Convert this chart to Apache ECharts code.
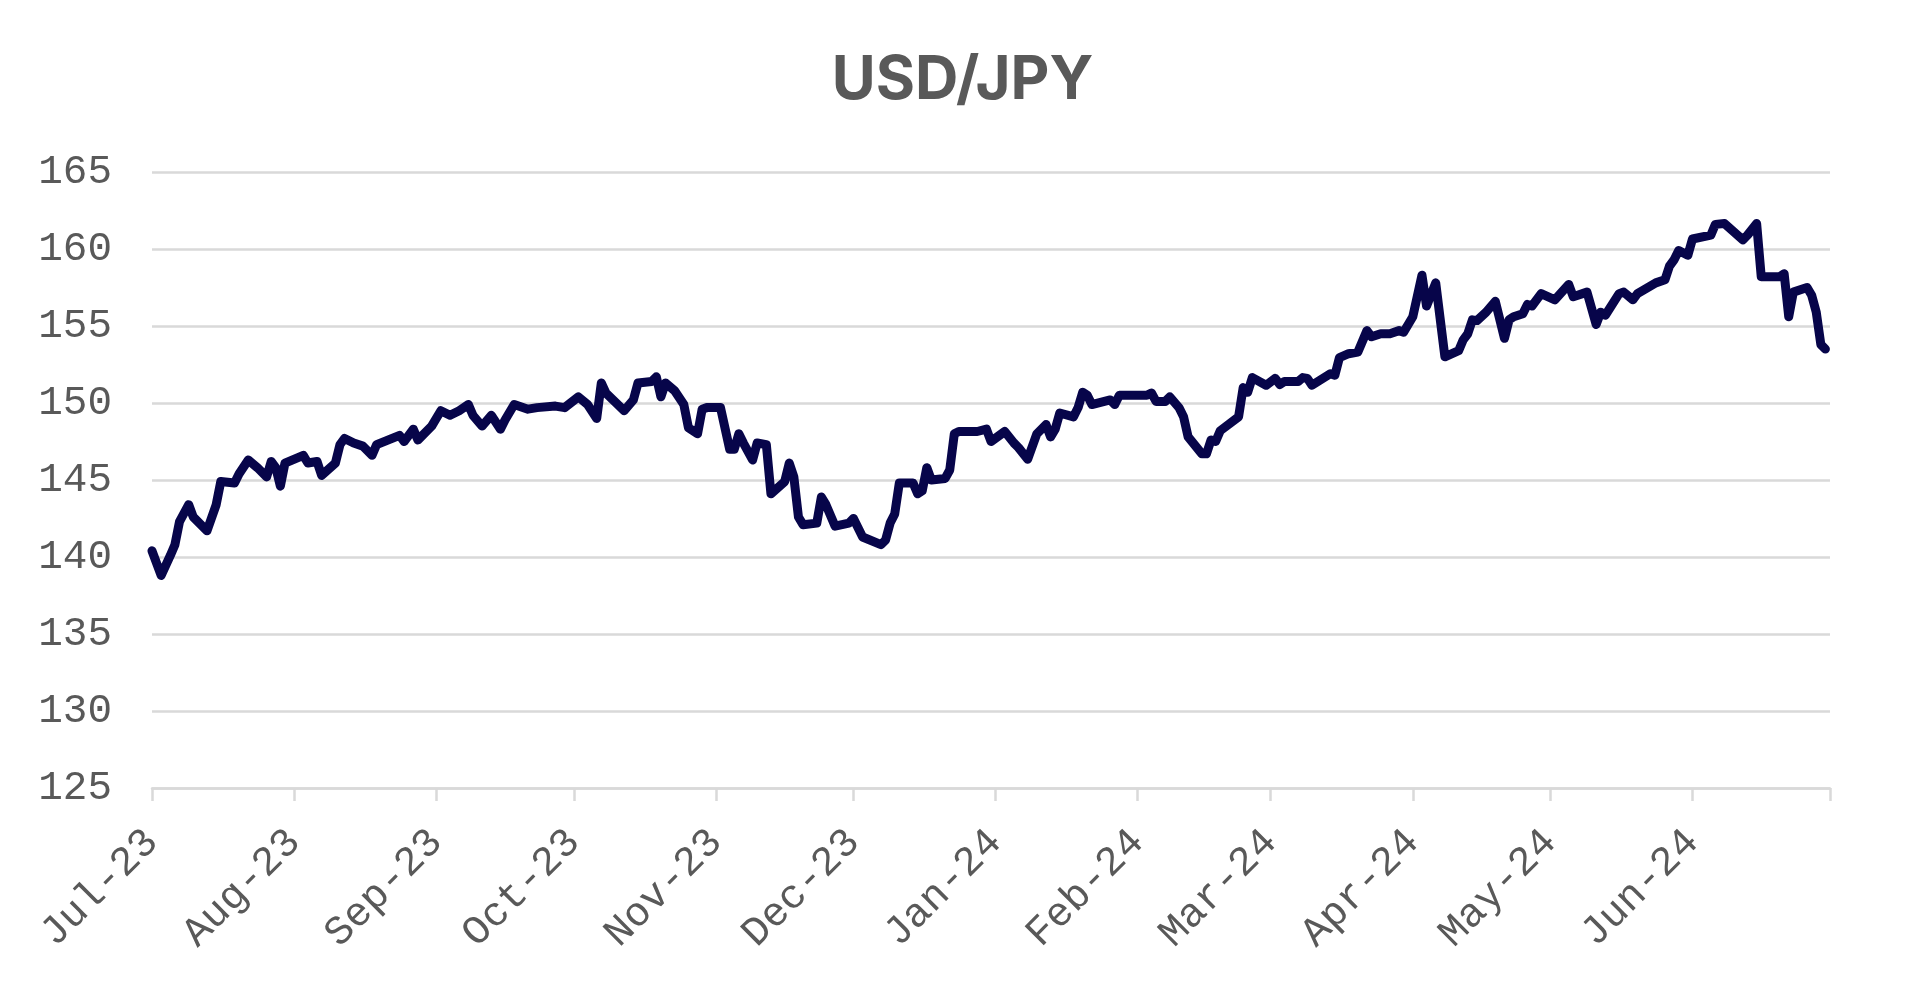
<!DOCTYPE html>
<html>
<head>
<meta charset="utf-8">
<title>USD/JPY</title>
<script src="https://cdn.jsdelivr.net/npm/echarts@6/dist/echarts.min.js"></script>
<style>
  html, body { margin: 0; padding: 0; background: #fff; }
  #chart { width: 1925px; height: 990px; }
</style>
</head>
<body>
<div id="chart"></div>
<script>
// 月初刻度
const monthStarts = ['2023-07-01', '2023-08-01', '2023-09-01', '2023-10-01', '2023-11-01', '2023-12-01',
    '2024-01-01', '2024-02-01', '2024-03-01', '2024-04-01', '2024-05-01', '2024-06-01', '2024-07-01']
const monthNames = ['Jan', 'Feb', 'Mar', 'Apr', 'May', 'Jun', 'Jul', 'Aug', 'Sep', 'Oct', 'Nov', 'Dec']
const yTicks = [125, 130, 135, 140, 145, 150, 155, 160, 165]

// 汇率 (读图估算)
const dates = [
    '2023-07-01', '2023-07-03', '2023-07-05', '2023-07-06', '2023-07-07', '2023-07-09', '2023-07-10', '2023-07-13',
    '2023-07-15', '2023-07-16', '2023-07-19', '2023-07-20', '2023-07-22', '2023-07-24', '2023-07-26', '2023-07-27',
    '2023-07-28', '2023-07-29', '2023-07-30', '2023-08-03', '2023-08-04', '2023-08-06', '2023-08-07', '2023-08-10',
    '2023-08-11', '2023-08-12', '2023-08-14', '2023-08-16', '2023-08-18', '2023-08-19', '2023-08-24', '2023-08-25',
    '2023-08-27', '2023-08-28', '2023-08-31', '2023-09-02', '2023-09-04', '2023-09-06', '2023-09-08', '2023-09-09',
    '2023-09-11', '2023-09-13', '2023-09-15', '2023-09-16', '2023-09-18', '2023-09-21', '2023-09-23', '2023-09-27',
    '2023-09-29', '2023-10-02', '2023-10-04', '2023-10-06', '2023-10-07', '2023-10-08', '2023-10-12', '2023-10-14',
    '2023-10-15', '2023-10-18', '2023-10-19', '2023-10-20', '2023-10-21', '2023-10-23', '2023-10-25', '2023-10-26',
    '2023-10-28', '2023-10-29', '2023-10-30', '2023-11-02', '2023-11-04', '2023-11-05', '2023-11-06', '2023-11-07',
    '2023-11-09', '2023-11-10', '2023-11-12', '2023-11-13', '2023-11-16', '2023-11-17', '2023-11-18', '2023-11-19',
    '2023-11-20', '2023-11-23', '2023-11-24', '2023-11-25', '2023-11-27', '2023-11-30', '2023-12-01', '2023-12-03',
    '2023-12-07', '2023-12-08', '2023-12-09', '2023-12-10', '2023-12-11', '2023-12-14', '2023-12-15', '2023-12-16',
    '2023-12-17', '2023-12-18', '2023-12-21', '2023-12-22', '2023-12-23', '2023-12-24', '2023-12-28', '2023-12-30',
    '2023-12-31', '2024-01-03', '2024-01-05', '2024-01-06', '2024-01-08', '2024-01-10', '2024-01-12', '2024-01-13',
    '2024-01-14', '2024-01-15', '2024-01-18', '2024-01-19', '2024-01-20', '2024-01-21', '2024-01-22', '2024-01-26',
    '2024-01-27', '2024-01-28', '2024-02-03', '2024-02-04', '2024-02-05', '2024-02-07', '2024-02-08', '2024-02-10',
    '2024-02-11', '2024-02-12', '2024-02-15', '2024-02-16', '2024-02-17', '2024-02-18', '2024-02-19', '2024-02-23',
    '2024-02-24', '2024-02-25', '2024-02-26', '2024-02-29', '2024-03-02', '2024-03-03', '2024-03-04', '2024-03-07',
    '2024-03-08', '2024-03-09', '2024-03-10', '2024-03-14', '2024-03-15', '2024-03-16', '2024-03-18', '2024-03-20',
    '2024-03-22', '2024-03-23', '2024-03-25', '2024-03-27', '2024-03-29', '2024-03-30', '2024-03-31', '2024-04-01',
    '2024-04-03', '2024-04-04', '2024-04-06', '2024-04-08', '2024-04-11', '2024-04-12', '2024-04-13', '2024-04-14',
    '2024-04-15', '2024-04-17', '2024-04-19', '2024-04-21', '2024-04-22', '2024-04-23', '2024-04-25', '2024-04-26',
    '2024-04-27', '2024-04-29', '2024-05-02', '2024-05-05', '2024-05-06', '2024-05-09', '2024-05-11', '2024-05-12',
    '2024-05-13', '2024-05-16', '2024-05-17', '2024-05-19', '2024-05-20', '2024-05-24', '2024-05-26', '2024-05-27',
    '2024-05-28', '2024-05-29', '2024-05-31', '2024-06-01', '2024-06-05', '2024-06-06', '2024-06-08', '2024-06-12',
    '2024-06-13', '2024-06-15', '2024-06-16', '2024-06-20', '2024-06-21', '2024-06-22', '2024-06-23', '2024-06-26',
    '2024-06-27', '2024-06-28', '2024-06-29', '2024-06-30'
]
const rates = [
    140.4, 138.8, 140.1, 140.8, 142.3, 143.4, 142.6, 141.7,
    143.4, 144.9, 144.8, 145.4, 146.3, 145.8, 145.2, 146.2,
    145.8, 144.6, 146.1, 146.6, 146.1, 146.2, 145.3, 146.1,
    147.3, 147.7, 147.4, 147.2, 146.6, 147.3, 147.9, 147.5,
    148.3, 147.6, 148.5, 149.5, 149.2, 149.5, 149.9, 149.2,
    148.5, 149.2, 148.3, 148.9, 149.9, 149.6, 149.7, 149.8,
    149.7, 150.4, 149.9, 149.0, 151.3, 150.65, 149.5, 150.2,
    151.3, 151.4, 151.7, 150.4, 151.3, 150.8, 149.9, 148.4,
    148.0, 149.6, 149.7, 149.7, 147.0, 147.0, 148.0, 147.4,
    146.3, 147.4, 147.3, 144.1, 144.9, 146.1, 145.2, 142.6,
    142.1, 142.2, 143.9, 143.4, 142.0, 142.2, 142.5, 141.3,
    140.8, 141.1, 142.2, 142.8, 144.8, 144.8, 144.1, 144.3,
    145.8, 145.0, 145.1, 145.65, 148.0, 148.15, 148.15, 148.3,
    147.5, 148.15, 147.4, 147.1, 146.35, 148.0, 148.6, 147.8,
    148.3, 149.35, 149.1, 149.7, 150.7, 150.5, 149.9, 150.2,
    149.9, 150.5, 150.5, 150.65, 150.1, 150.1, 150.4, 149.7,
    149.1, 147.8, 146.7, 146.7, 147.6, 147.5, 148.2, 149.1,
    151.0, 150.7, 151.65, 151.15, 151.6, 151.2, 151.4, 151.4,
    151.65, 151.6, 151.15, 151.9, 151.8, 152.95, 153.2, 153.3,
    154.7, 154.3, 154.5, 154.5, 154.7, 154.6, 155.1, 155.6,
    158.3, 156.3, 157.8, 153.0, 153.4, 154.1, 154.5, 155.4,
    155.35, 155.9, 156.6, 154.2, 155.4, 155.6, 155.8, 156.4,
    156.3, 157.1, 156.7, 157.7, 156.9, 157.2, 155.1, 155.9,
    155.7, 157.1, 157.2, 156.7, 157.1, 157.8, 158.0, 158.9,
    159.3, 159.9, 159.6, 160.65, 160.9, 161.6, 161.65, 160.6,
    160.9, 161.65, 158.2, 158.2, 158.4, 155.6, 157.2, 157.5,
    157.0, 155.9, 153.8, 153.5
]

function toTime(str) { // 本地时间
    const p = str.split('-')
    return new Date(+p[0], +p[1] - 1, +p[2]).getTime()
}

const chart = echarts.init(document.getElementById('chart'))
const gridColor = '#d9d9d9'
const textColor = '#595959'
const tickTimes = monthStarts.map(toTime)

const option = {
    animation: false,
    backgroundColor: '#fff',
    title: {
        text: 'USD/JPY',
        left: 'center',
        top: 46,
        textStyle: { color: textColor, fontFamily: 'Inter', fontWeight: 'bold', fontSize: 60 }
    },
    grid: { left: 152, right: 95, top: 172, bottom: 202, outerBoundsMode: 'none' },
    xAxis: {
        type: 'value', // 时间戳, 刻度按月初
        min: tickTimes[0],
        max: tickTimes[tickTimes.length - 1],
        axisLine: { show: true, lineStyle: { color: gridColor, width: 2.5 } },
        axisTick: { show: true, length: 13, customValues: tickTimes, lineStyle: { color: gridColor, width: 2.5 } },
        splitLine: { show: false },
        axisLabel: {
            customValues: tickTimes.slice(0, -1),
            rotate: 45,
            margin: 48,
            color: textColor,
            fontFamily: 'Liberation Mono',
            fontSize: 41,
            formatter: function (val) {
                const d = new Date(val)
                return monthNames[d.getMonth()] + '-' + String(d.getFullYear()).slice(2)
            }
        }
    },
    yAxis: {
        type: 'value',
        min: yTicks[0],
        max: yTicks[yTicks.length - 1],
        interval: 5,
        axisLine: { show: false },
        axisTick: { show: false },
        splitLine: { show: true, lineStyle: { color: gridColor, width: 2.5 } },
        axisLabel: { color: textColor, fontFamily: 'Liberation Mono', fontSize: 41, margin: 40 }
    },
    series: [{
        type: 'line',
        data: dates.map((d, i) => [toTime(d), rates[i]]),
        showSymbol: false,
        lineStyle: { color: '#07054a', width: 9, cap: 'round', join: 'round' }
    }]
}
chart.setOption(option)
</script>
</body>
</html>
